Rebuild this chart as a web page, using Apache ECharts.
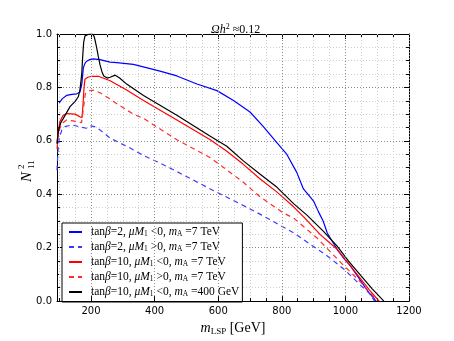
<!DOCTYPE html>
<html>
<head>
<meta charset="utf-8">
<script src="https://cdn.jsdelivr.net/npm/echarts@6/dist/echarts.min.js"></script>
<style>
html,body{margin:0;padding:0;background:#fff;}
#chart{width:454px;height:341px;}
</style>
</head>
<body>
<div id="chart"></div>
<script>
// ---- data ----
const xTicksMajor = [200, 400, 600, 800, 1000, 1200];
const xTicksMinor = [100, 150, 200, 250, 300, 350, 400, 450, 500, 550, 600, 650, 700, 750, 800, 850, 900, 950, 1000, 1050, 1100, 1150];

const seriesNames = [
  'tanβ=2, μM1 <0, mA =7 TeV',
  'tanβ=2, μM1 >0, mA =7 TeV',
  'tanβ=10, μM1 <0, mA =7 TeV',
  'tanβ=10, μM1 >0, mA =7 TeV',
  'tanβ=10, μM1 <0, mA =400 GeV'
];
const legendRich = [
  '{r|tan}{i|β}{r|=2, }{i|μM}{s|1}{r| <0, }{i|m}{s|A}{r| =7 TeV}',
  '{r|tan}{i|β}{r|=2, }{i|μM}{s|1}{r| >0, }{i|m}{s|A}{r| =7 TeV}',
  '{r|tan}{i|β}{r|=10, }{i|μM}{s|1}{r| <0, }{i|m}{s|A}{r| =7 TeV}',
  '{r|tan}{i|β}{r|=10, }{i|μM}{s|1}{r| >0, }{i|m}{s|A}{r| =7 TeV}',
  '{r|tan}{i|β}{r|=10, }{i|μM}{s|1}{r| <0, }{i|m}{s|A}{r| =400 GeV}'
];

// tanβ=2, μM1<0, mA=7 TeV (blue solid)
const x2neg = [100, 110, 123, 140, 155, 165, 171, 176, 181, 186, 196, 207, 228, 260, 281, 333, 380, 417, 470, 533, 596, 648, 700, 742, 785, 816, 847, 868, 889, 901, 915, 930, 943, 958, 974, 995, 1016, 1037, 1058, 1075, 1090, 1095];
const y2neg = [0.742, 0.758, 0.77, 0.774, 0.776, 0.782, 0.8125, 0.874, 0.89, 0.898, 0.904, 0.907, 0.904, 0.895, 0.893, 0.886, 0.872, 0.861, 0.843, 0.813, 0.788, 0.751, 0.708, 0.653, 0.592, 0.549, 0.482, 0.42, 0.39, 0.372, 0.335, 0.30, 0.255, 0.225, 0.194, 0.16, 0.132, 0.095, 0.059, 0.03, 0.01, 0.0];

// tanβ=2, μM1>0, mA=7 TeV (blue dashed)
const x2pos = [93, 96, 100, 108, 118, 140, 165, 186, 200, 215, 228, 260, 320, 365, 420, 470, 575, 679, 737, 838, 943, 995, 1048, 1075, 1092];
const y2pos = [0.49, 0.56, 0.61, 0.64, 0.653, 0.66, 0.652, 0.647, 0.656, 0.652, 0.641, 0.61, 0.575, 0.545, 0.515, 0.485, 0.42, 0.358, 0.322, 0.255, 0.169, 0.12, 0.059, 0.03, 0.0];

// tanβ=10, μM1<0, mA=7 TeV (red solid)
const x10neg = [93, 96, 102, 112, 123, 150, 165, 172, 175, 178, 181, 190, 200, 225, 260, 312, 365, 470, 575, 627, 679, 732, 785, 837, 868, 921, 974, 1010, 1048, 1080, 1106];
const y10neg = [0.59, 0.63, 0.672, 0.695, 0.702, 0.700, 0.69, 0.688, 0.74, 0.80, 0.831, 0.838, 0.841, 0.841, 0.825, 0.79, 0.751, 0.678, 0.604, 0.561, 0.512, 0.457, 0.408, 0.353, 0.316, 0.249, 0.194, 0.14, 0.083, 0.035, 0.0];

// tanβ=10, μM1>0, mA=7 TeV (red dashed)
const x10pos = [93, 96, 102, 112, 123, 155, 170, 176, 182, 191, 210, 228, 255, 281, 333, 365, 470, 575, 679, 732, 805, 838, 911, 985, 1048, 1075, 1100];
const y10pos = [0.57, 0.615, 0.647, 0.668, 0.678, 0.672, 0.668, 0.72, 0.776, 0.787, 0.79, 0.78, 0.76, 0.739, 0.70, 0.684, 0.604, 0.537, 0.445, 0.39, 0.33, 0.31, 0.236, 0.145, 0.071, 0.035, 0.0];

// tanβ=10, μM1<0, mA=400 GeV (black)
const x10negA = [93, 98, 105, 113, 134, 150, 160, 165, 168, 171, 174, 177, 181, 186, 195, 205, 210, 214, 218, 223, 228, 234, 240, 251, 260, 266, 276, 290, 312, 365, 470, 575, 627, 679, 732, 785, 837, 879, 931, 974, 1010, 1048, 1085, 1121];
const y10negA = [0.59, 0.64, 0.668, 0.684, 0.728, 0.748, 0.765, 0.79, 0.82, 0.855, 0.92, 0.97, 0.993, 0.999, 1.0, 1.0, 0.99, 0.97, 0.947, 0.915, 0.886, 0.86, 0.843, 0.835, 0.838, 0.843, 0.846, 0.835, 0.8125, 0.77, 0.696, 0.617, 0.58, 0.525, 0.475, 0.426, 0.365, 0.322, 0.261, 0.206, 0.15, 0.096, 0.045, 0.0];

function zip(xs, ys) { return xs.map((x, i) => [x, ys[i]]); }

const serif = '"Liberation Serif", "DejaVu Serif", serif';
const sans = '"DejaVu Sans", sans-serif';

const chart = echarts.init(document.getElementById('chart'), null, {renderer: 'canvas'});

const dotMajor = {type: [1, 2], color: '#8a8a8a', width: 1};
const dotMinor = {type: [1, 2], color: '#cfcfcf', width: 1};
const XMIN = 93, XMAX = 1200;

function lineSeries(name, data, color, dashed) {
  return {
    name: name, type: 'line', data: data, showSymbol: false, symbol: 'none',
    xAxisIndex: 0, yAxisIndex: 0, animation: false, clip: true,
    lineStyle: {color: color, width: 1.2, type: dashed ? [5, 4] : 'solid'},
    itemStyle: {color: color}
  };
}

chart.setOption({
  animation: false,
  backgroundColor: '#fff',
  title: {
    text: '{i|Ωh}{sup|2}{r| ≈0.12}',
    left: 206, top: 18,
    textStyle: {
      fontWeight: 'normal',
      rich: {
        i: {fontFamily: serif, fontStyle: 'italic', fontWeight: 'normal', fontSize: 12, color: '#000'},
        sup: {fontFamily: serif, fontWeight: 'normal', fontSize: 8, color: '#000', padding: [0, 0, 6, 0]},
        r: {fontFamily: serif, fontWeight: 'normal', fontSize: 12, color: '#000'}
      }
    }
  },
  grid: {left: 57, right: 45, top: 34, bottom: 35, containLabel: false},
  legend: {
    orient: 'vertical', left: 62, top: 223,
    backgroundColor: '#fff', borderColor: '#000', borderWidth: 1,
    padding: [3, 3, 4, 6], itemGap: 3, itemWidth: 13, itemHeight: 11,
    itemStyle: {opacity: 0},
    data: seriesNames,
    formatter: function (name) { return legendRich[seriesNames.indexOf(name)]; },
    textStyle: {
      padding: [0, 0, 0, 4],
      rich: {
        r: {fontFamily: serif, fontSize: 11.5, color: '#000', lineHeight: 11},
        i: {fontFamily: serif, fontStyle: 'italic', fontSize: 11.5, color: '#000', lineHeight: 11},
        s: {fontFamily: serif, fontSize: 7.5, color: '#000', padding: [4, 0, 0, 0], lineHeight: 11}
      }
    }
  },
  xAxis: [
    {
      type: 'value', position: 'bottom', min: XMIN, max: XMAX,
      axisLine: {show: true, onZero: false, lineStyle: {color: '#000', width: 1}},
      axisTick: {show: true, inside: true, length: 5, customValues: xTicksMajor, lineStyle: {color: '#000'}},
      axisLabel: {customValues: xTicksMajor, color: '#000', fontFamily: sans, fontSize: 10, margin: 5, formatter: v => String(v)},
      splitLine: {show: true, lineStyle: dotMajor},
      name: '{i|m}{s|LSP}{r| [GeV]}', nameLocation: 'middle', nameGap: 11,
      nameTextStyle: {
        rich: {
          i: {fontFamily: serif, fontStyle: 'italic', fontSize: 14, color: '#000', lineHeight: 16},
          s: {fontFamily: serif, fontSize: 9, color: '#000', padding: [6, 0, 0, 0], lineHeight: 16},
          r: {fontFamily: serif, fontSize: 14, color: '#000', lineHeight: 16}
        }
      },
      z: 5
    },
    {
      type: 'value', position: 'bottom', min: XMIN, max: XMAX,
      axisLine: {show: false, onZero: false},
      axisTick: {show: true, inside: true, length: 3, customValues: xTicksMinor, lineStyle: {color: '#000'}},
      axisLabel: {show: false},
      splitLine: {show: true, lineStyle: dotMinor},
      z: 1
    },
    {
      type: 'value', position: 'top', min: XMIN, max: XMAX,
      axisLine: {show: true, onZero: false, lineStyle: {color: '#000', width: 1}},
      axisTick: {show: true, inside: true, length: 5, customValues: xTicksMajor, lineStyle: {color: '#000'}},
      axisLabel: {show: false},
      splitLine: {show: false}
    },
    {
      type: 'value', position: 'top', min: XMIN, max: XMAX,
      axisLine: {show: false, onZero: false},
      axisTick: {show: true, inside: true, length: 3, customValues: xTicksMinor, lineStyle: {color: '#000'}},
      axisLabel: {show: false},
      splitLine: {show: false}
    }
  ],
  yAxis: [
    {
      type: 'value', position: 'left', min: 0, max: 1, interval: 0.2,
      axisLine: {show: true, onZero: false, lineStyle: {color: '#000', width: 1}},
      axisTick: {show: true, inside: true, length: 5, lineStyle: {color: '#000'}},
      minorTick: {show: true, splitNumber: 4, length: 3, lineStyle: {color: '#000'}},
      axisLabel: {color: '#000', fontFamily: sans, fontSize: 10, margin: 5, formatter: v => v.toFixed(1)},
      splitLine: {show: true, lineStyle: dotMajor},
      minorSplitLine: {show: true, lineStyle: dotMinor}
    },
    {
      type: 'value', position: 'right', min: 0, max: 1, interval: 0.2,
      axisLine: {show: true, onZero: false, lineStyle: {color: '#000', width: 1}},
      axisTick: {show: true, inside: true, length: 5, lineStyle: {color: '#000'}},
      minorTick: {show: true, splitNumber: 4, length: 3, lineStyle: {color: '#000'}},
      axisLabel: {show: false},
      splitLine: {show: false}
    }
  ],
  graphic: [
    {
      type: 'group', x: 27, y: 163, rotation: Math.PI / 2,
      children: [
        {type: 'text', x: -19, y: 0, style: {text: 'N', font: 'italic 15px ' + serif, fill: '#000', textAlign: 'left', textVerticalAlign: 'middle'}},
        {type: 'text', x: -6, y: -5, style: {text: '2', font: '9px ' + serif, fill: '#000', textAlign: 'left', textVerticalAlign: 'middle'}},
        {type: 'text', x: -6, y: 5, style: {text: '11', font: '9px ' + serif, fill: '#000', textAlign: 'left', textVerticalAlign: 'middle'}}
      ]
    }
  ],
  series: [
    lineSeries(seriesNames[0], zip(x2neg, y2neg), '#0000ff', false),
    lineSeries(seriesNames[1], zip(x2pos, y2pos), '#3a3aff', true),
    lineSeries(seriesNames[2], zip(x10neg, y10neg), '#ff0000', false),
    lineSeries(seriesNames[3], zip(x10pos, y10pos), '#ff2a2a', true),
    lineSeries(seriesNames[4], zip(x10negA, y10negA), '#000000', false)
  ]
});
</script>
</body>
</html>
